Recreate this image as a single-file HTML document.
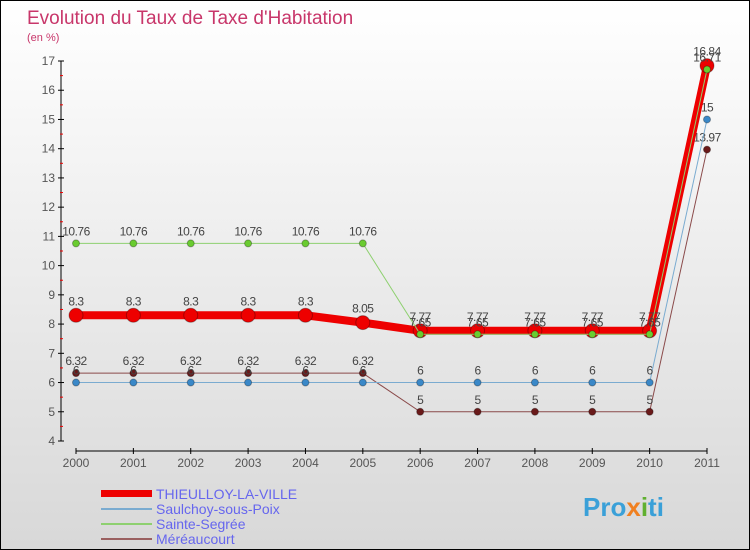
<!DOCTYPE html>
<html><head><meta charset="utf-8"><style>
body{margin:0}
#c{width:748px;height:548px;border:1px solid #000;background:linear-gradient(#fff,#d8d8d8);position:relative;font-family:"Liberation Sans",sans-serif}
</style></head><body>
<div id="c">
<svg id="s" width="748" height="548" style="position:absolute;left:0;top:0" font-family="Liberation Sans, sans-serif">
<text x="26" y="23" font-size="19" fill="#c8366a">Evolution du Taux de Taxe d'Habitation</text>
<text x="26" y="40" font-size="11" fill="#c8366a">(en %)</text>
<g id="axes"></g><g id="plot"></g>
<g>
<rect x="100" y="489" width="51" height="7" fill="#e00"/>
<text x="155" y="498" font-size="14" fill="#6666ee">THIEULLOY-LA-VILLE</text>
<rect x="100" y="507" width="51" height="2" fill="#7aabd0"/>
<text x="155" y="513" font-size="14" fill="#6666ee">Saulchoy-sous-Poix</text>
<rect x="100" y="522" width="51" height="2" fill="#8ed070"/>
<text x="155" y="528" font-size="14" fill="#6666ee">Sainte-Segrée</text>
<rect x="100" y="537" width="51" height="2" fill="#9a6060"/>
<text x="155" y="543" font-size="14" fill="#6666ee">Méréaucourt</text>
</g>
<text x="582" y="515" font-size="26" font-weight="bold" fill="#3aa0d8">Pro<tspan fill="#f08020">x</tspan><tspan fill="#60b030">i</tspan>ti</text>
</svg>
</div>
<script>
const years=[2000,2001,2002,2003,2004,2005,2006,2007,2008,2009,2010,2011];
const yTicks=[4,5,6,7,8,9,10,11,12,13,14,15,16,17];
const thieulloy=[8.3,8.3,8.3,8.3,8.3,8.05,7.77,7.77,7.77,7.77,7.77,16.84];
const saulchoy=[6,6,6,6,6,6,6,6,6,6,6,15];
const sainteSegree=[10.76,10.76,10.76,10.76,10.76,10.76,7.65,7.65,7.65,7.65,7.65,16.71];
const mereaucourt=[6.32,6.32,6.32,6.32,6.32,6.32,5,5,5,5,5,13.97];
const NS="http://www.w3.org/2000/svg";
const X=i=>75+i*(631/11);
const Y=v=>440-(v-4)*(380/13);
function mk(t,a,p){const e=document.createElementNS(NS,t);for(const k in a)e.setAttribute(k,a[k]);p.appendChild(e);return e;}
const ax=document.getElementById('axes'),pl=document.getElementById('plot');
let l=mk('line',{x1:60,y1:Y(17),x2:60,y2:Y(4),stroke:'#000'},ax);


yTicks.forEach(v=>{mk('line',{x1:57,y1:Y(v),x2:63,y2:Y(v),stroke:'#000'},ax);
 if(v<17)mk('line',{x1:59,y1:Y(v+0.5),x2:62,y2:Y(v+0.5),stroke:'#e00'},ax);
 const t=mk('text',{x:54,y:Y(v)+4,'font-size':12,fill:'#555','text-anchor':'end'},ax);t.textContent=v;
 
 });
l=mk('line',{x1:X(0),y1:450,x2:X(11),y2:450,stroke:'#000'},ax);


years.forEach((y,i)=>{mk('line',{x1:X(i),y1:447,x2:X(i),y2:453,stroke:'#000'},ax);
 const t=mk('text',{x:X(i),y:466,'font-size':12,fill:'#555','text-anchor':'middle'},ax);t.textContent=y;
 
 });
function series(d,name,col,dot,w,r,lab){
 const g=mk('g',{},pl);
 
 
 mk('polyline',{points:d.map((v,i)=>X(i)+','+Y(v)).join(' '),fill:'none',stroke:col,'stroke-width':w},g);
 d.forEach((v,i)=>{const c=mk('circle',{cx:X(i),cy:Y(v),r:r,fill:dot,stroke:'rgba(0,0,0,0.3)'},g);
  
  
  const t=mk('text',{x:X(i),y:Y(v)-lab,'font-size':12,fill:'#444','text-anchor':'middle','letter-spacing':'-0.5'},g);t.textContent=v;
  
  });
}
series(mereaucourt,'mereaucourt','#8a4a4a','#6a1a1a',1,3.5,8);
series(saulchoy,'saulchoy','#7aabd0','#3a88c8',1,3.5,8);
series(thieulloy,'thieulloy','#e00','#e00',8,7,10);
series(sainteSegree,'sainte-segree','#8ed070','#6acc30',1,3.5,8);
</script>
</body></html>
